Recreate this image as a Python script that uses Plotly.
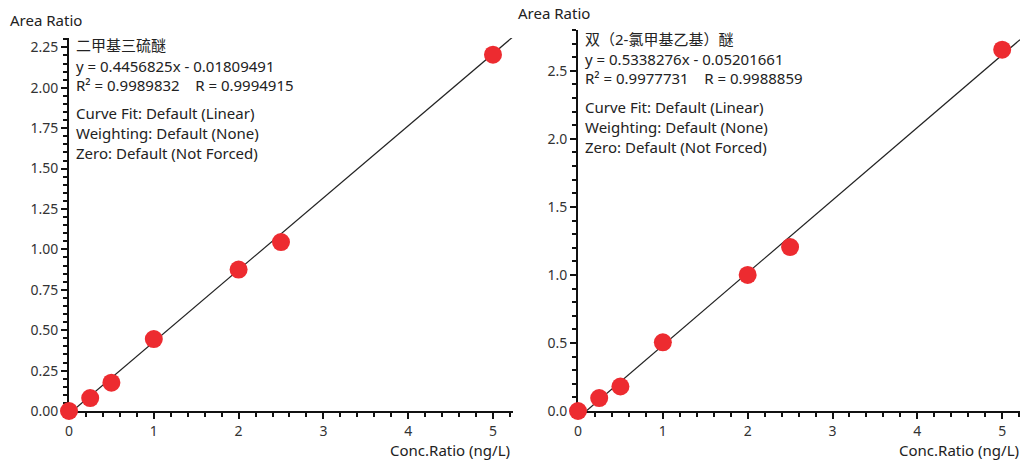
import plotly.graph_objects as go

# Calibration data: concentration ratio vs. area ratio for two compounds
conc_ratio = [0, 0.25, 0.5, 1, 2, 2.5, 5]
area_dmts = [0.0, 0.08, 0.175, 0.445, 0.875, 1.045, 2.205]
area_bcee = [0.0, 0.095, 0.18, 0.505, 1.0, 1.205, 2.655]

names = ["二甲基三硫醚", "双（2-氯甲基乙基）醚"]
slopes = [0.4456825, 0.5338276]
intercepts = [-0.01809491, -0.05201661]
r2_vals = ["0.9989832", "0.9977731"]
r_vals = ["0.9994915", "0.9988859"]
info_lines = ["Curve Fit: Default (Linear)", "Weighting: Default (None)", "Zero: Default (Not Forced)"]

x_ranges = [[0, 5.236], [0, 5.21]]
y_ranges = [[0, 2.308], [0, 2.80]]
y_dticks = [0.25, 0.5]
y_minor = [0.05, 0.1]
y_fmt = [".2f", ".1f"]

W, H = 1023, 463
x_domains = [[69 / W, 513 / W], [578 / W, 1020 / W]]
y_domains = [[(H - 411) / H, (H - 38) / H], [(H - 411) / H, (H - 30) / H]]

FONT = "Noto Sans, Noto Sans CJK SC, sans-serif"
RED = "#ED2B30"

fig = go.Figure()
series = [area_dmts, area_bcee]

for i in range(2):
    xa = "x" if i == 0 else "x2"
    ya = "y" if i == 0 else "y2"
    # regression line from its zero crossing to the right edge of the axis
    x0 = -intercepts[i] / slopes[i]
    x1 = x_ranges[i][1]
    fig.add_trace(go.Scatter(
        x=[x0, x1], y=[slopes[i] * x0 + intercepts[i], slopes[i] * x1 + intercepts[i]],
        mode="lines", line=dict(color="#222222", width=1.2),
        xaxis=xa, yaxis=ya, showlegend=False, hoverinfo="skip", cliponaxis=True))
    fig.add_trace(go.Scatter(
        x=conc_ratio, y=series[i], mode="markers",
        marker=dict(color=RED, size=18, line=dict(width=0)),
        xaxis=xa, yaxis=ya, showlegend=False, cliponaxis=False))

axis_common = dict(
    showgrid=False, zeroline=False, showline=True, linecolor="#111111", linewidth=2,
    ticks="outside", ticklen=6, tickwidth=2, tickcolor="#111111",
    tickfont=dict(family=FONT, size=14, color="#333333"),
    layer="below traces", fixedrange=True, automargin=False,
)

for i in range(2):
    sfx = "" if i == 0 else str(i + 1)
    fig.layout["xaxis" + sfx] = dict(
        axis_common, domain=x_domains[i], range=x_ranges[i], anchor="y" + sfx,
        dtick=1, tick0=0,
        minor=dict(dtick=0.2, ticks="outside", ticklen=4, tickwidth=2, tickcolor="#111111"))
    fig.layout["yaxis" + sfx] = dict(
        axis_common, domain=y_domains[i], range=y_ranges[i], anchor="x" + sfx,
        dtick=y_dticks[i], tick0=0, tickformat=y_fmt[i],
        minor=dict(dtick=y_minor[i], ticks="outside", ticklen=4, tickwidth=2, tickcolor="#111111"))

annotations = []
text_font = dict(family=FONT, size=15, color="#222222")

# axis titles
title_pos = [(8, 20, 512), (516, 13, 1021)]
for i, (tx, ty, rx) in enumerate(title_pos):
    annotations.append(dict(text="Area Ratio", x=tx / W, y=1 - ty / H, xref="paper", yref="paper",
                            xanchor="left", yanchor="middle", showarrow=False, font=text_font))
    annotations.append(dict(text="Conc.Ratio (ng/L)", x=rx / W, y=1 - 450 / H, xref="paper", yref="paper",
                            xanchor="right", yanchor="middle", showarrow=False, font=text_font))

# regression summary blocks
block_pos = [(74, [45, 66, 85, 113, 133, 153]), (583, [39, 59, 78, 107, 127, 147])]
for i, (bx, ys) in enumerate(block_pos):
    sign = "-" if intercepts[i] < 0 else "+"
    lines = [
        names[i],
        f"y = {slopes[i]:.7f}x {sign} {abs(intercepts[i]):.8f}",
        f"R² = {r2_vals[i]}    R = {r_vals[i]}",
    ] + info_lines
    for txt, yy in zip(lines, ys):
        annotations.append(dict(text=txt.replace("    ", "&nbsp;&nbsp;&nbsp;&nbsp;"),
                                x=bx / W, y=1 - yy / H, xref="paper", yref="paper",
                                xanchor="left", yanchor="middle", showarrow=False, font=text_font))

fig.update_layout(
    width=W, height=H, margin=dict(l=0, r=0, t=0, b=0),
    paper_bgcolor="white", plot_bgcolor="white",
    annotations=annotations,
)

fig.write_html("out.html")
